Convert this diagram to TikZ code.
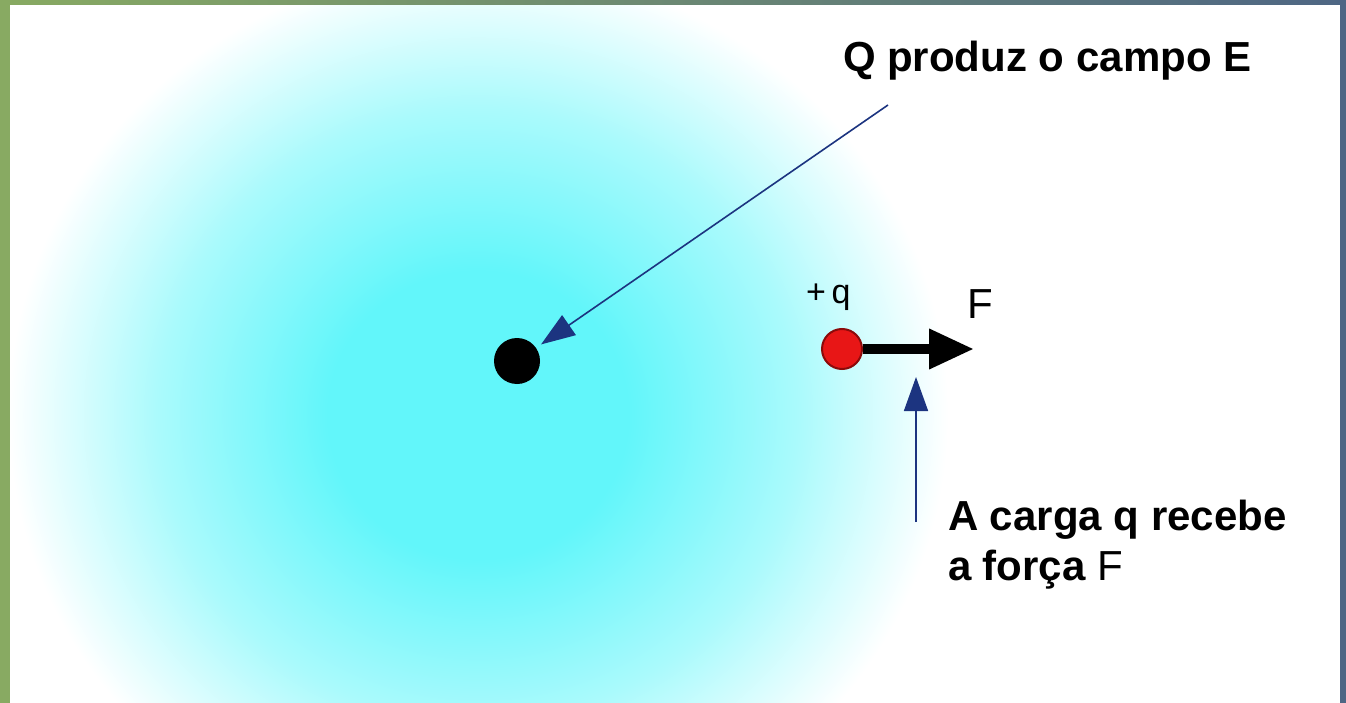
\documentclass[tikz,border=0pt]{standalone}
\usepackage{fontspec}
\setmainfont{Liberation Sans}
\usetikzlibrary{arrows.meta}
\definecolor{glowc}{RGB}{98,246,250}
\definecolor{glowm}{RGB}{170,250,252}
\definecolor{leafgreen}{RGB}{136,170,98}
\definecolor{slate}{RGB}{78,102,132}
\definecolor{navy}{RGB}{28,52,128}
\definecolor{chargered}{RGB}{232,22,22}
\definecolor{chargeedge}{RGB}{140,10,10}
\pgfdeclareradialshading{glow}{\pgfpoint{0bp}{0bp}}{color(0bp)=(glowc); color(8bp)=(glowc); color(17bp)=(glowm); color(25bp)=(white); color(50bp)=(white)}
\begin{document}
\begin{tikzpicture}[x=1pt,y=-1pt,
  bigtext/.style={font=\fontsize{42}{50}\selectfont\bfseries, inner sep=0pt, outer sep=0pt},
  flabel/.style={font=\fontsize{42}{50}\selectfont, inner sep=0pt},
  qlabel/.style={font=\fontsize{34}{40}\selectfont, inner sep=0pt},
  bluearrow/.style={draw=navy, line width=1.6pt, -{Triangle[length=34pt,width=24pt]}},
  forcearrow/.style={draw=black, line width=10pt, -{Triangle[length=45pt,width=38pt]}},
  charge/.style={circle, fill=chargered, draw=chargeedge, line width=2pt, minimum size=40pt, inner sep=0pt},
  source/.style={circle, fill=black, minimum size=46pt, inner sep=0pt}]
\useasboundingbox (0,0) rectangle (1346,703);
\fill[white] (0,0) rectangle (1346,703);
\begin{scope}
  \clip (0,0) rectangle (1346,703);
  \shade[shading=glow] (478,415) ellipse [x radius=470pt, y radius=450pt];
\end{scope}
% frame strips
\fill[leafgreen] (0,0) rectangle (10,703);
\shade[left color=leafgreen, right color=slate] (0,0) rectangle (1346,5);
\fill[slate] (1340,0) rectangle (1346,703);
% charges
\node[source] (Qdot) at (517,361) {};
\node[charge] (qdot) at (842,349) {};
\coordinate (Ftip) at (974,349);
\draw[forcearrow] (qdot) -- (Ftip);
% labels
\node[bigtext, anchor=base west] (lblQ) at (843,72) {Q produz o campo E};
\node[bigtext, anchor=north west, align=left] (lblq) at (948,500) {A carga q recebe\\a força {\mdseries F}};
\node[flabel, anchor=base west] (lblF) at (967,318) {F};
\node[qlabel, anchor=base west] (lblplus) at (806,303) {+\,q};
% pointer arrows
\coordinate (a1s) at (888,105);
\draw[bluearrow, shorten >=6pt] (a1s) -- (Qdot);
\coordinate (a2s) at (916,522);
\coordinate (a2e) at (916,377);
\draw[bluearrow] (a2s) -- (a2e);
\end{tikzpicture}
\end{document}
